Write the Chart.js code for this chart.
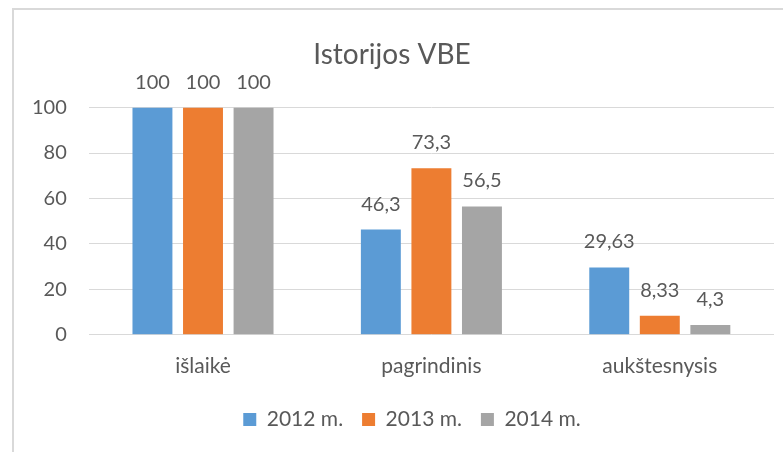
<!DOCTYPE html>
<html>
<head>
<meta charset="utf-8">
<script src="https://cdn.jsdelivr.net/npm/chart.js@4.4.1/dist/chart.umd.min.js"></script>
<style>
  html, body { margin: 0; padding: 0; background: #ffffff; overflow: hidden; }
  #wrap { position: relative; width: 783px; height: 452px; overflow: hidden; }
  #frame { position: absolute; left: 12px; top: 8px; width: 2000px; height: 2000px;
           border-left: 2px solid #d9d9d9; border-top: 2px solid #d9d9d9; box-sizing: border-box; }
  canvas { position: absolute; left: 0; top: 0; }
</style>
</head>
<body>
<div id="wrap">
  <div id="frame"></div>
  <canvas id="c" width="783" height="452"></canvas>
</div>
<script>
const chartTitle = "Istorijos VBE";
const categories = ["išlaikė", "pagrindinis", "aukštesnysis"];
const seriesNames = ["2012 m.", "2013 m.", "2014 m."];
const values2012 = [100, 46.3, 29.63];
const values2013 = [100, 73.3, 8.33];
const values2014 = [100, 56.5, 4.3];
const yTicks = [0, 20, 40, 60, 80, 100];

const colors = ["#5B9BD5", "#ED7D31", "#A5A5A5"];
const textColor = "#595959";
const fontFamily = "Lato, 'Open Sans', sans-serif";

const dataLabelPlugin = {
  id: "dataLabels",
  afterDatasetsDraw(chart) {
    const ctx = chart.ctx;
    ctx.save();
    ctx.font = "20px " + fontFamily;
    ctx.fillStyle = textColor;
    ctx.textAlign = "center";
    ctx.textBaseline = "alphabetic";
    chart.data.datasets.forEach((ds, i) => {
      const meta = chart.getDatasetMeta(i);
      meta.data.forEach((el, j) => {
        const txt = String(ds.data[j]).replace(".", ",");
        ctx.fillText(txt, el.x, el.y - 19);
      });
    });
    ctx.restore();
  }
};

const legendShiftPlugin = {
  id: "legendShift",
  afterLayout(chart) {
    if (chart.legend) {
      chart.legend.left += 20;
      chart.legend.right += 20;
    }
  }
};

const allSeries = [values2012, values2013, values2014];

new Chart(document.getElementById("c"), {
  type: "bar",
  data: {
    labels: categories,
    datasets: allSeries.map((vals, i) => ({
      label: seriesNames[i],
      data: vals,
      backgroundColor: colors[i],
      borderWidth: 0,
      categoryPercentage: 0.664,
      barPercentage: 0.79
    }))
  },
  options: {
    responsive: false,
    animation: false,
    devicePixelRatio: 1,
    layout: { padding: { left: 10, right: 9, top: 0, bottom: 12 } },
    plugins: {
      title: {
        display: true,
        text: chartTitle,
        color: textColor,
        font: { family: fontFamily, size: 28, weight: "normal" },
        padding: { top: 38, bottom: 36 }
      },
      legend: {
        display: true,
        position: "bottom",
        labels: {
          color: textColor,
          font: { family: fontFamily, size: 21 },
          boxWidth: 13,
          boxHeight: 13,
          padding: 19
        }
      },
      tooltip: { enabled: false }
    },
    scales: {
      x: {
        grid: { display: false, drawTicks: false },
        border: { display: false },
        ticks: { color: textColor, font: { family: fontFamily, size: 21 }, padding: 19 },
        afterFit(axis) { axis.height -= 8; }
      },
      y: {
        min: 0,
        max: 100,
        afterBuildTicks(axis) { axis.ticks = yTicks.map(v => ({ value: v })); },
        grid: { color: "#d9d9d9", lineWidth: 1, drawTicks: false },
        border: { display: false },
        ticks: { color: textColor, font: { family: fontFamily, size: 20 }, padding: 22 }
      }
    }
  },
  plugins: [dataLabelPlugin, legendShiftPlugin]
});
</script>
</body>
</html>
